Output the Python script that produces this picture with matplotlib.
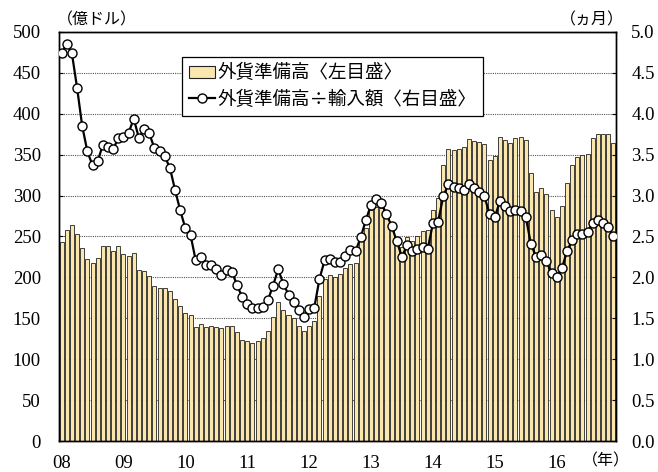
import numpy as np
import matplotlib
matplotlib.use('Agg')
import matplotlib.pyplot as plt
from matplotlib.patches import Patch
from matplotlib.lines import Line2D

# monthly, Jan 2008 - Dec 2016
reserves = [243, 258, 264, 253, 236, 222, 217, 224, 238, 238, 232, 238,  # 2008
            228, 226, 230, 209, 208, 202, 190, 187, 187, 183, 174, 165,  # 2009
            157, 154, 139, 143, 139, 141, 139, 138, 141, 141, 133, 124,  # 2010
            122, 120, 122, 126, 135, 152, 170, 160, 154, 150, 141, 135,  # 2011
            141, 147, 177, 198, 203, 201, 204, 211, 216, 217, 248, 261,  # 2012
            283, 286, 285, 278, 264, 245, 237, 249, 245, 251, 257, 258,  # 2013
            282, 297, 337, 357, 356, 357, 360, 369, 367, 366, 363, 343,  # 2014
            349, 372, 368, 364, 371, 372, 368, 328, 305, 309, 302, 282,  # 2015
            274, 287, 316, 337, 347, 350, 351, 370, 375, 375, 375, 364]  # 2016

months_cover = [4.74, 4.85, 4.74, 4.32, 3.85, 3.54, 3.37, 3.42, 3.62, 3.60, 3.57, 3.70,
                3.72, 3.77, 3.94, 3.70, 3.81, 3.76, 3.58, 3.54, 3.48, 3.34, 3.07, 2.82,
                2.60, 2.52, 2.21, 2.25, 2.15, 2.15, 2.10, 2.03, 2.09, 2.07, 1.91, 1.76,
                1.67, 1.63, 1.63, 1.64, 1.72, 1.90, 2.10, 1.92, 1.79, 1.70, 1.60, 1.52,
                1.61, 1.63, 1.98, 2.21, 2.22, 2.19, 2.19, 2.26, 2.33, 2.32, 2.49, 2.70,
                2.89, 2.96, 2.91, 2.77, 2.63, 2.44, 2.25, 2.40, 2.32, 2.35, 2.37, 2.35,
                2.66, 2.68, 2.99, 3.14, 3.11, 3.09, 3.07, 3.14, 3.09, 3.05, 2.99, 2.77,
                2.74, 2.93, 2.87, 2.81, 2.83, 2.81, 2.74, 2.41, 2.25, 2.27, 2.20, 2.05,
                2.01, 2.11, 2.32, 2.46, 2.53, 2.53, 2.56, 2.67, 2.70, 2.66, 2.62, 2.50]

year_labels = ['08', '09', '10', '11', '12', '13', '14', '15', '16']
label_reserves = '外貨準備高〈左目盛〉'
label_cover = '外貨準備高÷輸入額〈右目盛〉'

serif = 'Liberation Serif'
cjk = ['Noto Sans CJK JP', 'DejaVu Sans']

x = np.arange(len(reserves))

fig = plt.figure(figsize=(6.58, 4.72), dpi=100)
ax = fig.add_axes([59/658, 1-441/472, (616-59)/658, (441-32)/472])
ax2 = ax.twinx()

ax.set_axisbelow(True)
ax.grid(axis='y', color='#555555', linestyle=(0, (1, 1)), linewidth=0.8)
ax.bar(x, reserves, width=0.78, color='#FBE6AE', edgecolor='#222222', linewidth=0.6, zorder=2)

ax2.plot(x, months_cover, color='black', linewidth=1.6, marker='o', markersize=6.5,
         markerfacecolor='white', markeredgecolor='black', markeredgewidth=1.0, zorder=3)

ax.set_xlim(-0.5, len(reserves) - 0.5)
ax.set_ylim(0, 500)
ax2.set_ylim(0, 5)
ax.set_yticks(np.arange(0, 501, 50))
ax2.set_yticks(np.arange(0, 5.01, 0.5))
ax2.set_yticklabels(['%.1f' % v for v in np.arange(0, 5.01, 0.5)])
ax.set_xticks(np.arange(0, len(reserves), 12))
ax.set_xticklabels(year_labels)

ax.tick_params(axis='y', direction='in', length=3, pad=13, labelsize=13.5)
ax.tick_params(axis='x', length=0, pad=10, labelsize=13.5)
ax2.tick_params(axis='y', direction='in', length=3, pad=11, labelsize=13.5)
for lab in ax.get_xticklabels() + ax.get_yticklabels() + ax2.get_yticklabels():
    lab.set_fontfamily(serif)

for a in (ax, ax2):
    for s in a.spines.values():
        s.set_color('black')
        s.set_linewidth(1.0)

handles = [Patch(facecolor='#FBE6AE', edgecolor='#222222', linewidth=0.8),
           Line2D([], [], color='black', linewidth=1.6, marker='o', markersize=6.5,
                  markerfacecolor='white', markeredgecolor='black')]
leg = ax2.legend(handles, [label_reserves, label_cover], loc='upper left',
                 bbox_to_anchor=(0.221, 0.939), borderaxespad=0, frameon=True, fancybox=False,
                 edgecolor='black', framealpha=1, borderpad=0.4,
                 handlelength=1.4, handletextpad=0.1, labelspacing=0.45,
                 prop={'family': cjk, 'size': 13.3})
leg.get_frame().set_linewidth(0.9)

fig.text(97/658, 1-20/472, '（億ドル）', family=cjk, fontsize=11.5, ha='center', va='center')
fig.text(592/658, 1-20/472, '（ヵ月）', family=cjk, fontsize=11.5, ha='center', va='center')
fig.text(606/658, 1-461/472, '（年）', family=cjk, fontsize=11.5, ha='center', va='center')

fig.savefig('out.png', dpi=100)
